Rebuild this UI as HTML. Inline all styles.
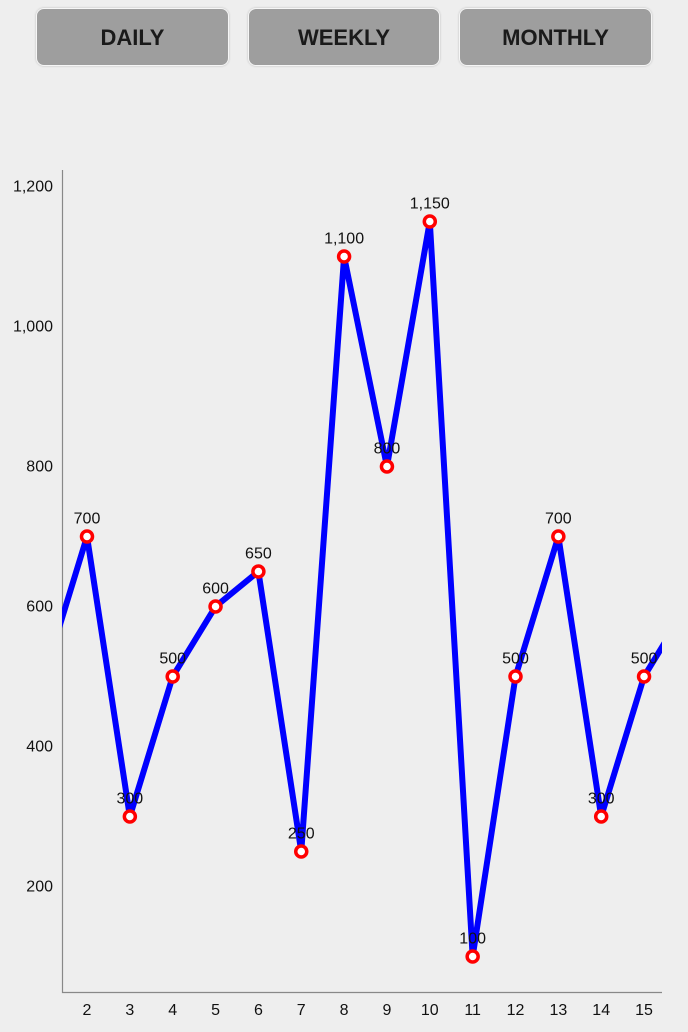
<!DOCTYPE html>
<html><head><meta charset="utf-8"><style>
body{margin:0;width:688px;height:1032px;background:#eeeeee;overflow:hidden;font-family:"Liberation Sans",sans-serif;position:relative}
.btn{position:absolute;top:8px;height:56px;background:#9e9e9e;border:1px solid #f6f6f6;border-radius:8px;box-shadow:0 0 2px #bbb;font-weight:bold;font-size:22px;color:#1a1a1a;text-align:center;line-height:58px}
svg{position:absolute;left:0;top:0}
</style></head><body>
<div class="btn" style="left:36px;width:191px">DAILY</div>
<div class="btn" style="left:248px;width:190px">WEEKLY</div>
<div class="btn" style="left:459px;width:191px">MONTHLY</div>
<svg id="chart" width="688" height="1032"></svg>
<script>
const categories=[1,2,3,4,5,6,7,8,9,10,11,12,13,14,15,16];
const values=[500,700,300,500,600,650,250,1100,800,1150,100,500,700,300,500,600];
const yTicks=[200,400,600,800,1000,1200];
const NS="http://www.w3.org/2000/svg";
const svg=document.getElementById('chart');
const X=c=>87+(c-2)*42.85, Y=v=>1026.5-v*0.7;
function mk(t,a,p){const e=document.createElementNS(NS,t);for(const k in a)e.setAttribute(k,a[k]);(p||svg).appendChild(e);return e;}
const fmt=v=>v.toLocaleString('en-US');
const ax=mk('path',{d:'M62.5 170V992.5H662',stroke:'#888',fill:'none','stroke-width':1.2});


yTicks.forEach(v=>{const t=mk('text',{x:53,y:Y(v)+5,'text-anchor':'end','font-size':16,fill:'#111'});t.textContent=fmt(v);

});
categories.forEach(c=>{if(c<2||c>15)return;const t=mk('text',{x:X(c),y:1015,'text-anchor':'middle','font-size':16,fill:'#111'});t.textContent=c;

});
mk('clipPath',{id:'cp'});mk('rect',{x:62,y:0,width:600,height:992},document.getElementById('cp'));
const g=mk('g',{'clip-path':'url(#cp)'});
const line=mk('polyline',{points:categories.map((c,i)=>X(c)+','+Y(values[i])).join(' '),fill:'none',stroke:'#0000ff','stroke-width':6,'stroke-linejoin':'miter'},g);


categories.forEach((c,i)=>{if(c<2||c>15)return;
const p=mk('circle',{cx:X(c),cy:Y(values[i]),r:5.5,fill:'#fff',stroke:'#ff0000','stroke-width':3.5});


const t=mk('text',{x:X(c),y:Y(values[i])-13,'text-anchor':'middle','font-size':16,fill:'#111'});t.textContent=fmt(values[i]);

});
</script>
</body></html>
